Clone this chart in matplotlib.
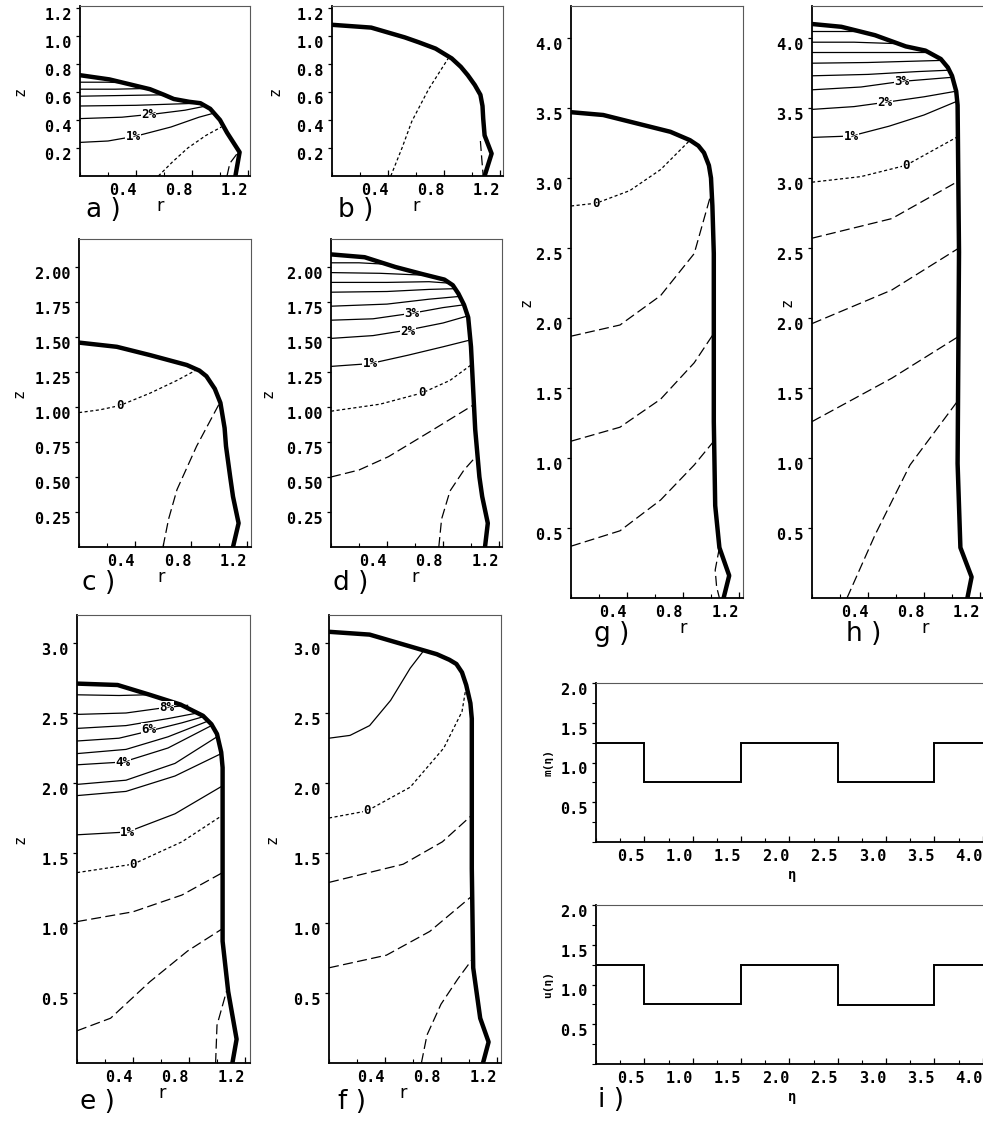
import matplotlib.pyplot as plt
from matplotlib.ticker import MultipleLocator

plt.rcParams['font.family'] = ['DejaVu Sans Mono']
plt.rcParams['font.weight'] = 'bold'

W, H = 983, 1124
PX = 140.0  # scan pixels per unit of r and z

# ---- data, (r, z) points ----
a_surf = [(0, .72), (.21, .69), (.50, .62), (.60, .58), (.67, .55), (.78, .53), (.86, .52),
          (.93, .48), (1.0, .40), (1.05, .31), (1.14, .17), (1.11, 0)]
a_solid = [[(0, .67), (.20, .67), (.33, .665)],
           [(0, .62), (.25, .62), (.47, .625)],
           [(0, .57), (.30, .575), (.60, .58)],
           [(0, .50), (.40, .505), (.70, .515), (.86, .52)],
           [(0, .41), (.30, .42), (.55, .445), (.75, .47), (.90, .50)],
           [(0, .24), (.20, .25), (.40, .285), (.65, .35), (.85, .42), (.96, .45)]]
a_zero = [[(.56, 0), (.66, .10), (.77, .20), (.90, .29), (1.01, .35)]]
a_neg = [[(1.05, 0), (1.07, .09), (1.13, .17)]]
a_text = [("2%", .49, .44), ("1%", .38, .28)]

b_surf = [(0, 1.08), (.28, 1.06), (.52, .99), (.62, .955), (.74, .91), (.855, .84),
          (.92, .78), (.97, .72), (1.02, .65), (1.06, .58), (1.075, .50), (1.08, .41),
          (1.09, .29), (1.14, .16), (1.09, 0)]
b_zero = [[(.42, 0), (.50, .20), (.57, .39), (.69, .62), (.83, .84)]]
b_neg = [[(1.06, .25), (1.07, .12), (1.08, 0)]]

c_surf = [(0, 1.46), (.27, 1.43), (.51, 1.37), (.77, 1.30), (.86, 1.26), (.91, 1.22),
          (.97, 1.13), (1.01, 1.03), (1.04, .85), (1.05, .72), (1.08, .50), (1.10, .36),
          (1.14, .17), (1.10, 0)]
c_zero = [[(0, .96), (.15, .98), (.29, 1.01), (.51, 1.10), (.70, 1.19), (.83, 1.26)]]
c_neg = [[(.60, 0), (.64, .20), (.70, .41), (.84, .72), (1.0, 1.02)]]
c_text = [("0", .29, 1.01)]

d_surf = [(0, 2.09), (.24, 2.07), (.46, 2.0), (.65, 1.95), (.81, 1.91), (.87, 1.87),
          (.91, 1.81), (.95, 1.73), (.98, 1.64), (1.0, 1.43), (1.03, .84), (1.06, .50),
          (1.08, .36), (1.12, .17), (1.10, 0)]
d_solid = [[(0, 2.03), (.20, 2.03), (.39, 2.02)],
           [(0, 1.96), (.35, 1.955), (.70, 1.94)],
           [(0, 1.89), (.40, 1.89), (.70, 1.895), (.84, 1.885)],
           [(0, 1.82), (.40, 1.825), (.70, 1.84), (.88, 1.845)],
           [(0, 1.72), (.40, 1.735), (.70, 1.77), (.92, 1.79)],
           [(0, 1.62), (.30, 1.63), (.58, 1.67), (.80, 1.71), (.95, 1.73)],
           [(0, 1.49), (.30, 1.51), (.55, 1.55), (.80, 1.60), (.975, 1.65)],
           [(0, 1.29), (.28, 1.31), (.55, 1.37), (.80, 1.43), (1.0, 1.48)]]
d_zero = [[(0, .97), (.35, 1.02), (.65, 1.10), (.85, 1.19), (1.0, 1.30)]]
d_neg = [[(0, .50), (.20, .55), (.41, .645), (.70, .82), (1.01, 1.01)],
         [(.77, 0), (.79, .20), (.85, .40), (.95, .55), (1.03, .64)]]
d_text = [("3%", .58, 1.67), ("2%", .55, 1.54), ("1%", .28, 1.31), ("0", .65, 1.10)]

e_surf = [(0, 2.71), (.29, 2.70), (.52, 2.63), (.74, 2.56), (.90, 2.48), (.96, 2.42),
          (1.0, 2.35), (1.03, 2.22), (1.04, 2.11), (1.04, 1.39), (1.04, .87), (1.08, .51),
          (1.14, .17), (1.11, 0)]
e_solid = [[(0, 2.63), (.30, 2.625), (.50, 2.63), (.52, 2.635)],
           [(0, 2.49), (.35, 2.50), (.64, 2.54), (.79, 2.555)],
           [(0, 2.39), (.35, 2.41), (.65, 2.46), (.86, 2.50)],
           [(0, 2.30), (.30, 2.32), (.51, 2.37), (.75, 2.43), (.89, 2.47)],
           [(0, 2.21), (.35, 2.24), (.65, 2.33), (.93, 2.44)],
           [(0, 2.13), (.33, 2.15), (.65, 2.25), (.96, 2.41)],
           [(0, 1.99), (.35, 2.02), (.70, 2.14), (1.0, 2.33)],
           [(0, 1.91), (.35, 1.94), (.70, 2.05), (1.03, 2.21)],
           [(0, 1.63), (.36, 1.65), (.70, 1.78), (1.04, 1.98)]]
e_zero = [[(0, 1.36), (.40, 1.42), (.75, 1.58), (1.04, 1.77)]]
e_neg = [[(0, 1.01), (.40, 1.08), (.75, 1.20), (1.04, 1.36)],
         [(0, .23), (.24, .32), (.52, .58), (.79, .80), (1.04, .96)],
         [(.99, 0), (1.0, .27), (1.07, .52)]]
e_text = [("8%", .64, 2.54), ("6%", .51, 2.38), ("4%", .33, 2.15), ("1%", .36, 1.65),
          ("0", .40, 1.42)]

f_surf = [(0, 3.08), (.29, 3.06), (.53, 2.99), (.77, 2.92), (.86, 2.88), (.91, 2.85),
          (.95, 2.79), (.98, 2.70), (1.01, 2.57), (1.02, 2.46), (1.02, 1.39), (1.03, .68),
          (1.08, .32), (1.14, .15), (1.10, 0)]
f_solid = [[(0, 2.32), (.15, 2.34), (.29, 2.41), (.44, 2.59), (.58, 2.82), (.68, 2.95)]]
f_zero = [[(0, 1.75), (.27, 1.80), (.58, 1.97), (.82, 2.25), (.95, 2.51), (.98, 2.69)]]
f_neg = [[(0, 1.29), (.53, 1.42), (.81, 1.58), (1.02, 1.77)],
         [(0, .68), (.41, .77), (.72, .94), (1.03, 1.20)],
         [(.66, 0), (.70, .20), (.80, .42), (.92, .60), (1.03, .75)]]
f_text = [("0", .27, 1.80)]

g_surf = [(0, 3.47), (.23, 3.45), (.47, 3.39), (.71, 3.33), (.85, 3.27), (.91, 3.23),
          (.95, 3.18), (.985, 3.09), (1.0, 3.0), (1.01, 2.80), (1.02, 2.46), (1.02, 1.26),
          (1.03, .66), (1.06, .36), (1.13, .16), (1.09, 0)]
g_zero = [[(0, 2.80), (.18, 2.82), (.42, 2.91), (.64, 3.06), (.84, 3.26)]]
g_neg = [[(0, 1.87), (.35, 1.95), (.64, 2.16), (.88, 2.46), (1.01, 2.92)],
         [(0, 1.12), (.35, 1.22), (.64, 1.42), (.88, 1.68), (1.02, 1.89)],
         [(0, .37), (.35, .48), (.64, .70), (.88, .95), (1.02, 1.12)],
         [(1.06, .36), (1.03, .20), (1.04, .08), (1.06, 0)]]
g_text = [("0", .18, 2.82)]

h_surf = [(0, 4.10), (.21, 4.08), (.45, 4.02), (.67, 3.94), (.81, 3.91), (.92, 3.85),
          (.97, 3.79), (1.0, 3.73), (1.03, 3.62), (1.04, 3.52), (1.05, 2.47), (1.04, .96),
          (1.06, .36), (1.14, .15), (1.11, 0)]
h_solid = [[(0, 4.05), (.20, 4.05), (.32, 4.05)],
           [(0, 3.97), (.30, 3.97), (.60, 3.96)],
           [(0, 3.90), (.40, 3.90), (.82, 3.90)],
           [(0, 3.82), (.40, 3.825), (.75, 3.835), (.93, 3.84)],
           [(0, 3.73), (.40, 3.74), (.75, 3.76), (.98, 3.77)],
           [(0, 3.63), (.35, 3.65), (.64, 3.69), (1.01, 3.72)],
           [(0, 3.49), (.30, 3.51), (.52, 3.54), (.80, 3.58), (1.03, 3.62)],
           [(0, 3.29), (.28, 3.30), (.55, 3.37), (.80, 3.45), (1.04, 3.55)]]
h_zero = [[(0, 2.97), (.35, 3.01), (.67, 3.09), (1.05, 3.30)]]
h_neg = [[(0, 2.57), (.57, 2.71), (1.05, 2.98)],
         [(0, 1.96), (.57, 2.20), (1.05, 2.50)],
         [(0, 1.26), (.57, 1.57), (1.05, 1.87)],
         [(.25, 0), (.45, .45), (.70, .95), (1.05, 1.42)]]
h_text = [("3%", .64, 3.69), ("2%", .52, 3.54), ("1%", .28, 3.30), ("0", .67, 3.09)]

eta_edges = [0, 0.5, 1.5, 2.5, 3.5, 4.2]
m_vals = [1.25, 0.75, 1.25, 0.75, 1.25]
u_vals = [1.24, 0.75, 1.24, 0.74, 1.24]

fig = plt.figure(figsize=(W / 100, H / 100), dpi=100)


def px_axes(left, top, w, h):
    return fig.add_axes([left / W, 1 - (top + h) / H, w / W, h / H])


def frame(ax):
    for s in ['left', 'bottom']:
        ax.spines[s].set_linewidth(1.3)
    for s in ['top', 'right']:
        ax.spines[s].set_linewidth(0.8)
        ax.spines[s].set_color('0.35')
    ax.tick_params(axis='y', direction='out', length=3, width=0.9, labelsize=11, pad=3)
    ax.tick_params(axis='x', direction='in', length=4, width=0.9, labelsize=11, pad=5)
    ax.tick_params(which='minor', length=3, width=0.8)


def rz_panel(left, top, w, h, zticks, zfmt, surf, solid=(), zero=(), neg=(), text=(),
             zlab_off=58, rlab_x=0.48):
    ax = px_axes(left, top, w, h)
    ax.set_xlim(0, w / PX)
    ax.set_ylim(0, h / PX)
    frame(ax)
    ax.set_xticks([0.4, 0.8, 1.2], ['0.4', '0.8', '1.2'])
    ax.xaxis.set_minor_locator(MultipleLocator(0.2))
    ax.tick_params(axis='x', which='minor', direction='in')
    ax.set_yticks(zticks, [zfmt % t for t in zticks])
    plt.setp(ax.get_xticklabels(), ha='right')
    plt.setp(ax.get_yticklabels(), va='top')
    for line in solid:
        r, z = zip(*line)
        ax.plot(r, z, color='k', lw=0.9)
    for line in zero:
        r, z = zip(*line)
        ax.plot(r, z, color='k', lw=0.9, dashes=[2.5, 2])
    for line in neg:
        r, z = zip(*line)
        ax.plot(r, z, color='k', lw=0.9, dashes=[8, 3.5])
    r, z = zip(*surf)
    ax.plot(r, z, color='k', lw=3.2, solid_joinstyle='round')
    for t, r, z in text:
        ax.text(r, z, t, ha='center', va='center', fontsize=9,
                bbox=dict(fc='white', ec='none', pad=0.3), zorder=5)
    ax.text(-zlab_off / w, 0.5, 'z', rotation=90, ha='center', va='center',
            fontsize=11, fontweight='normal', transform=ax.transAxes)
    ax.text(rlab_x, -30 / h, 'r', ha='center', va='center', fontsize=13,
            fontweight='normal', family='DejaVu Sans', transform=ax.transAxes)
    return ax


t12 = [0.2, 0.4, 0.6, 0.8, 1.0, 1.2]
t200 = [0.25, 0.5, 0.75, 1.0, 1.25, 1.5, 1.75, 2.0]
t30 = [0.5, 1.0, 1.5, 2.0, 2.5, 3.0]
t40 = [0.5, 1.0, 1.5, 2.0, 2.5, 3.0, 3.5, 4.0]

rz_panel(80, 6, 170, 170, t12, '%.1f', a_surf, a_solid, a_zero, a_neg, a_text, 60, 0.47)
rz_panel(332, 6, 171, 170, t12, '%.1f', b_surf, (), b_zero, b_neg, (), 57, 0.49)
rz_panel(79, 239, 172, 308, t200, '%.2f', c_surf, (), c_zero, c_neg, c_text, 60, 0.48)
rz_panel(331, 239, 171, 308, t200, '%.2f', d_surf, d_solid, d_zero, d_neg, d_text, 63, 0.49)
rz_panel(77, 615, 173, 448, t30, '%.1f', e_surf, e_solid, e_zero, e_neg, e_text, 57, 0.49)
rz_panel(329, 615, 172, 448, t30, '%.1f', f_surf, f_solid, f_zero, f_neg, f_text, 57, 0.43)
rz_panel(571, 6, 172, 592, t40, '%.1f', g_surf, (), g_zero, g_neg, g_text, 45, 0.65)
rz_panel(812, 6, 172, 592, t40, '%.1f', h_surf, h_solid, h_zero, h_neg, h_text, 25, 0.66)

for top, vals, lab in [(683, m_vals, 'm(η)'), (905, u_vals, 'u(η)')]:
    ax = px_axes(596, top, 400, 159)
    ax.set_xlim(0, 400 / 96.7)
    ax.set_ylim(0, 2.0)
    frame(ax)
    ax.stairs(vals, eta_edges, color='k', lw=1.4, baseline=None)
    xt = [0.5, 1.0, 1.5, 2.0, 2.5, 3.0, 3.5, 4.0]
    ax.set_xticks(xt, ['%.1f' % t for t in xt])
    ax.set_yticks([0.5, 1.0, 1.5, 2.0], ['0.5', '1.0', '1.5', '2.0'])
    ax.xaxis.set_minor_locator(MultipleLocator(0.25))
    ax.yaxis.set_minor_locator(MultipleLocator(0.25))
    ax.tick_params(axis='x', which='minor', direction='in')
    ax.tick_params(axis='y', which='minor', direction='out')
    plt.setp(ax.get_xticklabels(), ha='right')
    plt.setp(ax.get_yticklabels(), va='top')
    ax.text(-48 / 400, 0.5, lab, rotation=90, ha='center', va='center', fontsize=8,
            transform=ax.transAxes)
    ax.text(0.49, -26 / 159, 'η', ha='center', va='top', fontsize=10,
            transform=ax.transAxes)

panel_names = ['a )', 'b )', 'c )', 'd )', 'e )', 'f )', 'g )', 'h )', 'i )']
panel_xy = [(86, 210), (338, 210), (82, 583), (333, 583), (80, 1102), (338, 1102),
            (594, 634), (846, 634), (598, 1100)]
for name, (x, y) in zip(panel_names, panel_xy):
    fig.text(x / W, 1 - y / H, name, fontsize=19, fontweight='normal',
             family='DejaVu Sans', ha='left', va='center')

fig.savefig('out.png', dpi=100)
